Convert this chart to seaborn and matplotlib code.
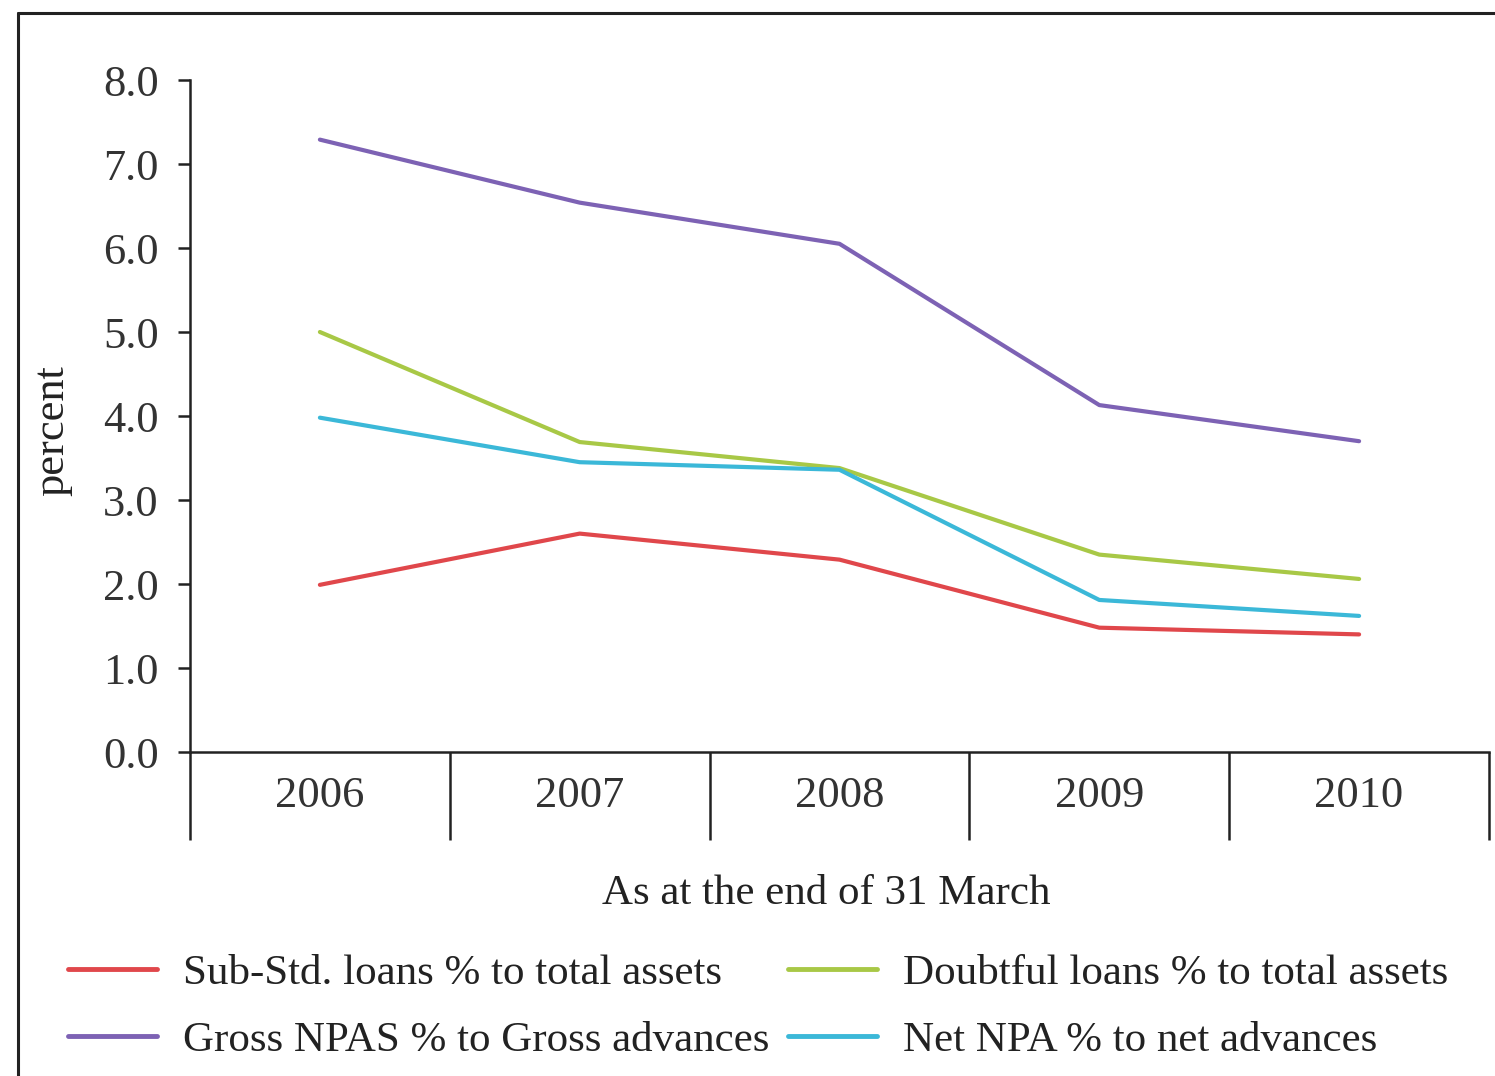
import matplotlib
matplotlib.use("Agg")
import matplotlib.pyplot as plt
import seaborn as sns
import pandas as pd
import numpy as np
from matplotlib.lines import Line2D

years = ["2006", "2007", "2008", "2009", "2010"]
sub_std = [1.99, 2.60, 2.29, 1.48, 1.40]
doubtful = [5.00, 3.69, 3.38, 2.35, 2.06]
gross_npa = [7.29, 6.54, 6.05, 4.13, 3.70]
net_npa = [3.98, 3.45, 3.36, 1.81, 1.62]

series_names = [
    "Sub-Std. loans % to total assets",
    "Doubtful loans % to total assets",
    "Gross NPAS % to Gross advances",
    "Net NPA % to net advances",
]
series_vals = [sub_std, doubtful, gross_npa, net_npa]
colors = ["#e0474b", "#a8c846", "#7d62b4", "#3bb8d8"]

rows = []
for name, vals in zip(series_names, series_vals):
    for i, v in enumerate(vals):
        rows.append({"x": i, "year": years[i], "series": name, "value": v})
df = pd.DataFrame(rows)

sns.set_theme(style="white")
plt.rcParams["font.family"] = ["Liberation Serif", "DejaVu Serif"]

fig = plt.figure(figsize=(14.95, 10.76), dpi=100)
ax = fig.add_axes([190/1495, 1-752/1076, (1489-190)/1495, (752-80)/1076])

sns.lineplot(data=df, x="x", y="value", hue="series", hue_order=series_names,
             palette=colors, linewidth=3, ax=ax, legend=False)

ax.set_xlim(-0.5, 4.5)
ax.set_ylim(0, 8)
ax.set_yticks(np.arange(0, 8.01, 1.0))
ax.set_yticklabels([f"{v:.1f}" for v in np.arange(0, 8.01, 1.0)], fontsize=32, color="#333333")
ax.set_xticks(range(len(years)))
ax.set_xticklabels(years, fontsize=32, color="#333333")
ax.set_xticks(np.arange(-0.5, 4.51, 1.0), minor=True)
ax.tick_params(axis="x", which="major", length=0, pad=17)
ax.tick_params(axis="x", which="minor", length=63, width=1.8, color="#222222", direction="out", bottom=True)
ax.tick_params(axis="y", which="major", length=9, width=1.8, color="#222222", direction="out", left=True, pad=13.5)

for s in ["top", "right"]:
    ax.spines[s].set_visible(False)
for s in ["left", "bottom"]:
    ax.spines[s].set_color("#222222")
    ax.spines[s].set_linewidth(1.8)

ax.set_xlabel("As at the end of 31 March", fontsize=31, color="#222222")
ax.xaxis.set_label_coords(0.49, -0.182)
ax.set_ylabel("percent", fontsize=32, color="#222222")
ax.yaxis.set_label_coords(-0.091, 0.479)
ax.grid(False)

handles = [Line2D([0], [0], color=c, lw=3.5) for c in colors]
order = [0, 2, 1, 3]
leg = fig.legend([handles[i] for i in order], [series_names[i] for i in order],
                 ncol=2, loc="upper left", bbox_to_anchor=(68/1495, 1-954/1076),
                 frameon=False, fontsize=31, handlelength=2.07, handletextpad=0.6,
                 columnspacing=0.44, labelspacing=0.65, borderpad=0, borderaxespad=0)
for t in leg.get_texts():
    t.set_color("#222222")

fig.add_artist(Line2D([18/1495, 18/1495], [0, 1-13/1076], color="#222222", lw=2.2, transform=fig.transFigure))
fig.add_artist(Line2D([18/1495, 1], [1-13/1076, 1-13/1076], color="#222222", lw=2.2, transform=fig.transFigure))

fig.savefig("out.png", dpi=100)
